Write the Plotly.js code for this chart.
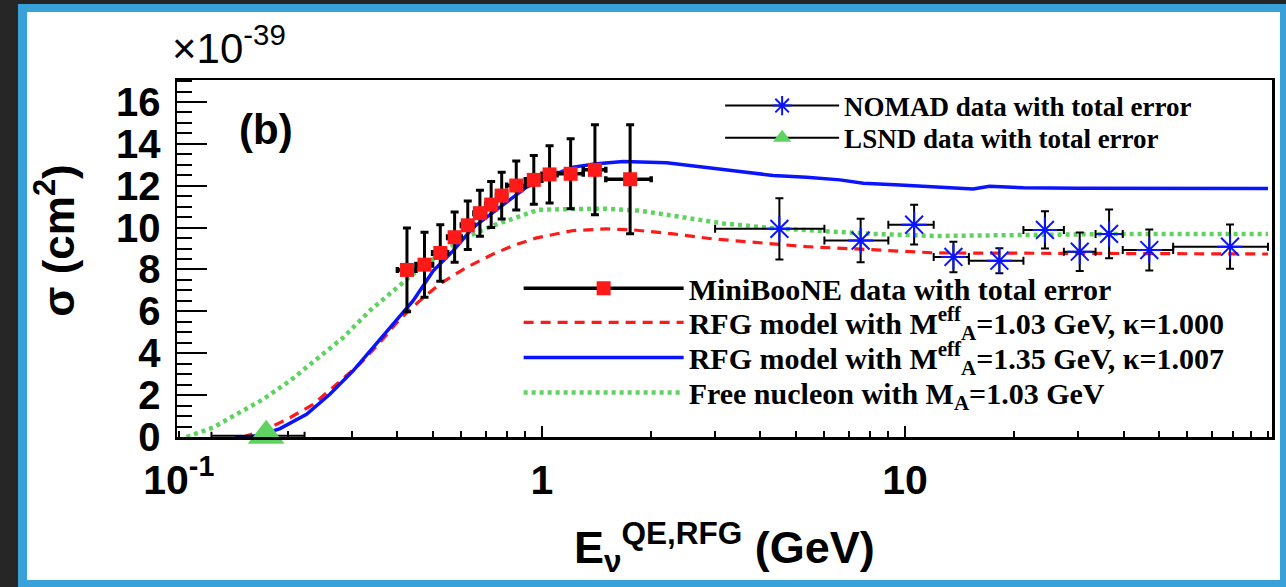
<!DOCTYPE html>
<html><head><meta charset="utf-8">
<script src="https://cdn.plot.ly/plotly-3.0.1.min.js"></script>
<style>
html,body{margin:0;padding:0;background:#262626;width:1286px;height:587px;overflow:hidden}
#frame{position:absolute;left:18px;top:4px;width:1268px;height:583px;background:#38a1d9}
#plot{position:absolute;left:27px;top:12px;width:1253px;height:568px;background:#fff}
</style></head><body><div id="frame"></div><div id="plot"></div>
<script>
// ---- MiniBooNE data ----
const mbX = [0.425,0.475,0.525,0.575,0.625,0.675,0.725,0.775,0.85,0.95,1.05,1.2,1.4,1.75];
const mbY = [7.98,8.23,8.79,9.54,10.11,10.69,11.1,11.53,12.01,12.28,12.54,12.57,12.76,12.31];
const mbErr = [2.0,1.55,1.35,1.2,1.16,1.1,1.1,1.12,1.17,1.17,1.37,1.67,2.15,2.6];
const mbXErr = [0.025,0.025,0.025,0.025,0.025,0.025,0.025,0.025,0.05,0.05,0.05,0.1,0.1,0.25];
// ---- NOMAD data ----
const nmX = [4.51,7.55,10.6,13.6,18.2,24.3,30.3,36.5,47.1,78.6];
const nmY = [9.94,9.38,10.14,8.6,8.42,9.89,8.85,9.7,8.93,9.09];
const nmErr = [1.46,1.04,0.95,0.73,0.6,0.89,0.92,1.16,0.98,1.06];
const nmXlo = [3.0,6.0,9.0,12.0,15.0,21.2,27.4,33.5,39.8,54.8];
const nmXhi = [6.0,9.0,12.0,15.0,21.2,27.4,33.5,39.8,54.8,100];
// ---- LSND data ----
const lsX = [0.174];
const lsY = [0.06];
const lsErr = [0.08];
const lsXlo = [0.123];
const lsXhi = [0.222];
// ---- Model curves ----
const blueX = [0.143,0.155,0.167,0.19,0.2248,0.2606,0.302,0.343,0.3894,0.442,0.502,0.57,0.6467,0.766,0.9074,1.05,1.22,1.415,1.675,2.206,2.842,3.512,4.336,5.36,6.62,7.68,9.69,12.2,14.0,15.4,17.1,21.2,30,50,100];
const blueY = [0,0,0.08,0.4,1.08,2.04,3.16,4.27,5.39,6.51,7.94,8.9,10.01,10.97,11.93,12.45,12.89,13.05,13.16,13.1,12.89,12.68,12.49,12.41,12.28,12.12,12.04,11.93,11.9,11.84,11.98,11.9,11.88,11.87,11.87];
const redX = [0.15,0.1745,0.2022,0.2344,0.272,0.315,0.358,0.4063,0.4613,0.5236,0.62,0.7344,0.8335,0.9667,1.22,1.507,1.785,2.3,2.96,3.9,5.36,7.37,10.1,12.2,20,40,100];
const redY = [0.0,0.37,0.92,1.56,2.52,3.48,4.51,5.63,6.51,7.31,8.1,8.74,9.14,9.51,9.86,9.94,9.89,9.7,9.46,9.3,9.09,8.98,8.87,8.79,8.78,8.75,8.74];
const greenX = [0.105,0.1243,0.144,0.1707,0.2022,0.2394,0.2836,0.3358,0.3894,0.442,0.5236,0.62,0.7344,0.8335,0.977,1.22,1.507,1.86,2.4,3.16,4.34,5.95,8.18,12.2,20,40,100];
const greenY = [0.0,0.45,1.08,1.8,2.68,3.72,4.75,6.03,6.99,7.78,8.74,9.54,10.1,10.42,10.85,10.89,10.9,10.81,10.53,10.2,9.97,9.81,9.7,9.6,9.65,9.7,9.7];
// ---- Tick labels ----
const xTickVals = [0.1,0.2,0.3,0.4,0.5,0.6,0.7,0.8,0.9,1,2,3,4,5,6,7,8,9,10,20,30,40,50,60,70,80,90,100];
const xTickText = ['10<sup>-1</sup>','','','','','','','','','1','','','','','','','','','10','','','','','','','','',''];
const xMajorVals = [1,10];
const names = {
  nomad: 'NOMAD data with total error',
  lsnd: 'LSND data with total error',
  mb: 'MiniBooNE data with total error',
  red: 'RFG model with M<sup>eff</sup><sub>A</sub>=1.03 GeV, κ=1.000',
  blue: 'RFG model with M<sup>eff</sup><sub>A</sub>=1.35 GeV, κ=1.007',
  green: 'Free nucleon with M<sub>A</sub>=1.03 GeV'
};

const RED = '#ff1a1a', BLUE = '#0a14ff', GREEN = '#5fd35f';
const traces = [
  {x: greenX, y: greenY, mode:'lines', name: names.green, legend:'legend6',
   line:{color:GREEN, width:4.5, dash:'4px,4px'}},
  {x: redX, y: redY, mode:'lines', name: names.red, legend:'legend4',
   line:{color:RED, width:3.2, dash:'10px,7px'}},
  {x: blueX, y: blueY, mode:'lines', name: names.blue, legend:'legend5',
   line:{color:BLUE, width:3.5}},
  {x: nmX, y: nmY, mode:'markers', showlegend:false,
   marker:{symbol:'asterisk-open', size:21, color:BLUE, line:{color:BLUE, width:2}},
   error_y:{type:'data', array:nmErr, color:'#000', thickness:2, width:4},
   error_x:{type:'data', array:nmXhi.map((v,i)=>v-nmX[i]), arrayminus:nmXlo.map((v,i)=>nmX[i]-v), color:'#000', thickness:2, width:4}},
  {x: lsX, y: lsY, mode:'markers', showlegend:false, cliponaxis:false,
   marker:{symbol:'triangle-up', size:32, color:GREEN},
   error_y:{type:'data', array:lsErr, color:'#000', thickness:2, width:3},
   error_x:{type:'data', array:lsXhi.map((v,i)=>v-lsX[i]), arrayminus:lsXlo.map((v,i)=>lsX[i]-v), color:'#000', thickness:2, width:4}},
  {x: mbX, y: mbY, mode:'markers', showlegend:false,
   marker:{symbol:'square', size:14, color:RED},
   error_y:{type:'data', array:mbErr, color:'#000', thickness:3, width:4},
   error_x:{type:'data', array:mbXErr, color:'#000', thickness:3.5, width:3}},
  // legend glyphs
  {x:[null], y:[null], mode:'lines+markers', name:names.nomad, legend:'legend',
   line:{color:'#000', width:2}, marker:{symbol:'asterisk-open', size:16, color:BLUE, line:{color:BLUE,width:2}}},
  {x:[null], y:[null], mode:'lines+markers', name:names.lsnd, legend:'legend2',
   line:{color:'#000', width:2}, marker:{symbol:'triangle-up', size:16, color:GREEN}},
  {x:[null], y:[null], mode:'lines+markers', name:names.mb, legend:'legend3',
   line:{color:'#000', width:3.5}, marker:{symbol:'square', size:14, color:RED}},
  // carrier for the long-major-tick overlay axis
  {x:[1], y:[-5], xaxis:'x2', yaxis:'y', mode:'markers', showlegend:false, hoverinfo:'skip', marker:{opacity:0}}
];

const serif = {family:'Liberation Serif, Times New Roman, serif', color:'#000', weight:'bold'};
function leg(x, y, size, w){
  return {x:x, y:y, xref:'paper', yref:'paper', xanchor:'left', yanchor:'middle',
    bgcolor:'rgba(0,0,0,0)', borderwidth:0, itemwidth:w, itemclick:false,
    font:Object.assign({size:size}, serif)};
}
const sans = 'Liberation Sans, Arial, Helvetica, sans-serif';
const xr = [-1.005, 2.011];
const layout = {
  width:1253, height:568,
  margin:{l:150, r:8, t:68, b:143, pad:0},
  paper_bgcolor:'#fff', plot_bgcolor:'#fff',
  showlegend:true,
  xaxis:{type:'log', range:xr, showgrid:false, zeroline:false,
    showline:true, linecolor:'#000', linewidth:2.5, mirror:true,
    ticks:'inside', ticklen:6, tickwidth:2, tickcolor:'#000',
    tickmode:'array', tickvals:xTickVals, ticktext:xTickText,
    ticklabelstandoff:5,
    tickfont:{family:sans, size:41, color:'#000', weight:'bold'}},
  xaxis2:{type:'log', range:xr, overlaying:'x', anchor:'y', side:'bottom',
    showgrid:false, zeroline:false, showline:false, showticklabels:false,
    ticks:'inside', ticklen:11, tickwidth:2, tickcolor:'#000',
    tickmode:'array', tickvals:xMajorVals},
  yaxis:{range:[0, 17.05], showgrid:false, zeroline:false,
    showline:true, linecolor:'#000', linewidth:2.5, mirror:true,
    ticks:'inside', ticklen:30, tickwidth:2, tickcolor:'#000',
    tick0:0, dtick:2, ticklabelstandoff:6,
    tickfont:{family:sans, size:40, color:'#000', weight:'bold'},
    minor:{dtick:0.5, ticks:'inside', ticklen:15, tickwidth:2, tickcolor:'#000'}},
  legend: leg(0.496, 0.927, 27, 114),
  legend2: leg(0.496, 0.837, 27, 114),
  legend3: leg(0.312, 0.4165, 30, 160),
  legend4: leg(0.312, 0.3212, 30, 160),
  legend5: leg(0.312, 0.223, 30, 160),
  legend6: leg(0.312, 0.1248, 30, 160),
  annotations:[
    {text:'×10<sup>-39</sup>', xref:'paper', yref:'paper', x:-0.006, y:1.017, xanchor:'left', yanchor:'bottom',
     showarrow:false, font:{family:sans, size:42, color:'#000'}},
    {text:'(b)', xref:'paper', yref:'paper', x:0.0813, y:0.8626, xanchor:'center', yanchor:'middle',
     showarrow:false, font:{family:sans, size:42, color:'#000', weight:'bold'}},
    {text:'σ (cm<sup>2</sup>)', xref:'paper', yref:'paper', x:-0.112, y:0.551, xanchor:'center', yanchor:'middle',
     textangle:-90, showarrow:false, font:{family:sans, size:44, color:'#000', weight:'bold'}},
    {text:'E<sub>ν</sub><sup>QE,RFG</sup> (GeV)', xref:'paper', yref:'paper', x:0.5, y:-0.308, xanchor:'center', yanchor:'middle',
     showarrow:false, font:{family:sans, size:45, color:'#000', weight:'bold'}}
  ]
};
Plotly.newPlot('plot', traces, layout, {displayModeBar:false, staticPlot:true});
</script></body></html>
